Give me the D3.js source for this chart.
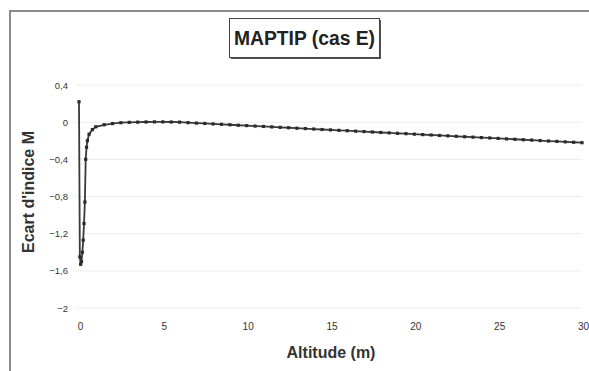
<!DOCTYPE html>
<html>
<head>
<meta charset="utf-8">
<script src="https://cdn.jsdelivr.net/npm/d3@7"></script>
<style>
  body { margin: 0; background: #fff; }
  svg { display: block; font-family: "Liberation Sans", Arial, sans-serif; }
</style>
</head>
<body>
<div id="chart"></div>
<script>
// altitude (m)
const altitudes = [0, 0.05, 0.1, 0.15, 0.2, 0.25, 0.3, 0.35, 0.4, 0.45, 0.5, 0.6, 0.8,
  1, 1.5, 2, 2.5, 3, 3.5, 4, 4.5, 5, 5.5, 6, 6.5,
  7, 7.5, 8, 8.5, 9, 9.5, 10, 10.5, 11, 11.5, 12, 12.5, 13, 13.5, 14, 14.5,
  15, 15.5, 16, 16.5, 17, 17.5, 18, 18.5, 19, 19.5, 20, 20.5, 21, 21.5, 22, 22.5,
  23, 23.5, 24, 24.5, 25, 25.5, 26, 26.5, 27, 27.5, 28, 28.5, 29, 29.5, 30];
// ecart d'indice M
const ecart = [0.22, -1.45, -1.53, -1.5, -1.4, -1.27, -1.09, -0.86, -0.4, -0.27, -0.2, -0.13, -0.08,
  -0.05, -0.028, -0.015, -0.006, -0.002, 0.0, 0.002, 0.003, 0.003, 0.002, 0.0, -0.005,
  -0.010, -0.014, -0.019, -0.023, -0.028, -0.033, -0.037, -0.042, -0.046, -0.051, -0.056, -0.060,
  -0.065, -0.069, -0.074, -0.079, -0.083, -0.088, -0.092, -0.097, -0.101, -0.106, -0.111, -0.115,
  -0.120, -0.124, -0.129, -0.134, -0.138, -0.143, -0.147, -0.152, -0.157, -0.161, -0.166, -0.170,
  -0.175, -0.180, -0.184, -0.189, -0.193, -0.198, -0.203, -0.207, -0.212, -0.216, -0.221];
const xTicks = [0, 5, 10, 15, 20, 25, 30];
const yTicks = [0.4, 0, -0.4, -0.8, -1.2, -1.6, -2];
const title = "MAPTIP (cas E)";

const width = 589, height = 371;
const svg = d3.select("#chart").append("svg")
  .attr("width", width).attr("height", height);

// cadre exterieur
svg.append("path")
  .attr("d", `M10,${height} L10,11 L${width},11`)
  .attr("fill", "none").attr("stroke", "#8a8a8a").attr("stroke-width", 2);

const x = d3.scaleLinear().domain([0, 30]).range([79, 582]);
const y = d3.scaleLinear().domain([-2, 0.4]).range([308, 85]);

// grille (tres pale)
svg.append("g").selectAll("line")
  .data(yTicks).join("line")
  .attr("x1", 76).attr("x2", 582)
  .attr("y1", d => y(d)).attr("y2", d => y(d))
  .attr("stroke", "#ececec").attr("stroke-width", 1);

// axe Y
const yAxis = svg.append("g")
  .attr("transform", `translate(${x(0) - 6},0)`)
  .call(d3.axisLeft(y).tickValues(yTicks).tickSize(0)
    .tickFormat(d => d3.format("~g")(d).replace(".", ",")));
yAxis.select(".domain").remove();
yAxis.selectAll("text").attr("font-size", 9.5).attr("fill", "#333").attr("dx", -2);

// axe X
const xAxis = svg.append("g")
  .attr("transform", `translate(0,${y(-2) + 12})`)
  .call(d3.axisBottom(x).tickValues(xTicks).tickSize(0));
xAxis.select(".domain").remove();
xAxis.selectAll("text").attr("font-size", 10).attr("fill", "#333").attr("dx", 1);

// courbe
const pts = altitudes.map((a, i) => [a, ecart[i]]);
svg.append("path")
  .datum(pts)
  .attr("fill", "none").attr("stroke", "#3a3a3a").attr("stroke-width", 1.8)
  .attr("d", d3.line().x(d => x(d[0])).y(d => y(d[1])));

svg.append("g").selectAll("rect")
  .data(pts).join("rect")
  .attr("x", d => x(d[0]) - 1.6).attr("y", d => y(d[1]) - 1.6)
  .attr("width", 3.2).attr("height", 3.2)
  .attr("fill", "#2a2a2a");

// titre avec cadre
svg.append("rect")
  .attr("x", 231).attr("y", 20).attr("width", 150).attr("height", 39)
  .attr("fill", "#555");
svg.append("rect")
  .attr("x", 229.5).attr("y", 18.5).attr("width", 150).attr("height", 39)
  .attr("fill", "#fff").attr("stroke", "#444").attr("stroke-width", 1);
svg.append("text")
  .attr("x", 304.5).attr("y", 44.5)
  .attr("text-anchor", "middle")
  .attr("font-size", 20).attr("font-weight", "bold").attr("fill", "#222")
  .attr("textLength", 141).attr("lengthAdjust", "spacingAndGlyphs")
  .text(title);

// titres des axes
svg.append("text")
  .attr("transform", `translate(34,192) rotate(-90)`)
  .attr("text-anchor", "middle")
  .attr("font-size", 16).attr("font-weight", "bold").attr("fill", "#333")
  .text("Ecart d'indice M");

svg.append("text")
  .attr("x", 331).attr("y", 358)
  .attr("text-anchor", "middle")
  .attr("font-size", 16).attr("font-weight", "bold").attr("fill", "#333")
  .text("Altitude (m)");
</script>
</body>
</html>
